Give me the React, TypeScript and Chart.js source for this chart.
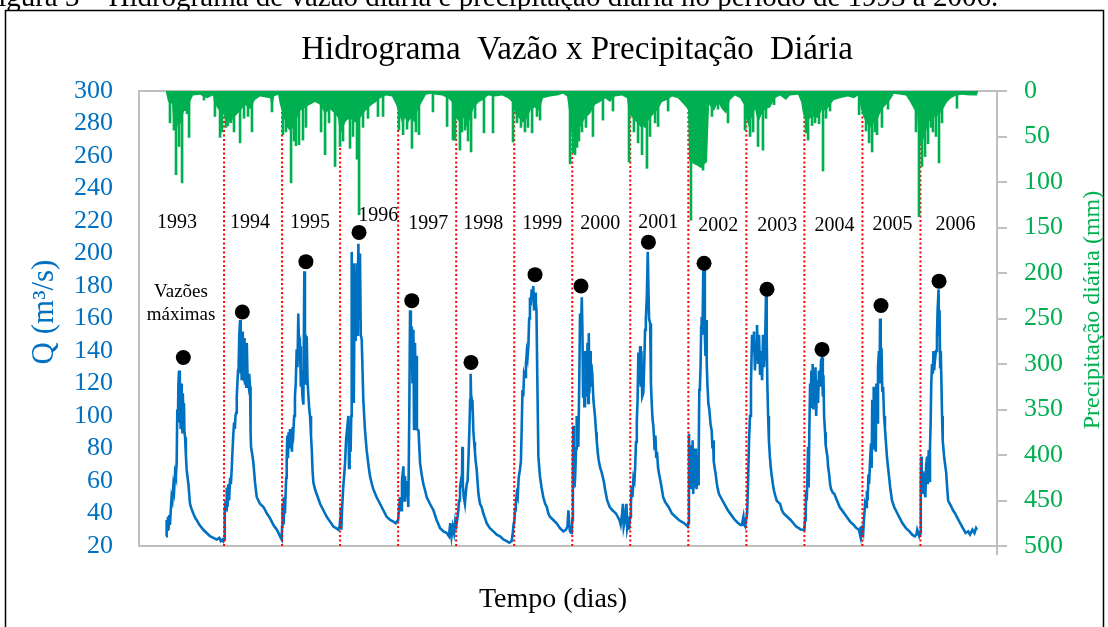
import { useEffect, useRef } from "react";
import { Chart, registerables } from "chart.js";

Chart.register(...registerables);

type Pt = [number, number];

// ---------- DATA ----------
const YEARS = [1993, 1994, 1995, 1996, 1997, 1998, 1999, 2000, 2001, 2002, 2003, 2004, 2005, 2006];
const START_DAY = 170; // axis day of the first record
const YEAR_LEN = 365.25;

// daily discharge, [day of year, Q m3/s]
const Q_1993: Pt[] = [[0,26],[4,36],[8,30],[12,38],[16,30],[20,39],[25,33],[30,42],[35,50],[40,48],[46,57],[51,54],[57,65],[62,63],[67,71],[71,104],[75,96],[78,120],[82,128],[86,100],[88,124],[92,92],[95,120],[99,110],[103,90],[106,114],[109,96],[113,108],[116,90],[120,87],[125,76],[130,67],[136,62],[141,58],[146,52],[151,46],[160,43],[172,40],[185,37],[193,36],[210,33],[235,30],[256,28],[277,26],[298,25],[319,24],[335,25],[345,23],[355,24],[361,23]];
const Q_1994: Pt[] = [[0,24],[3,44],[6,40],[10,48],[14,42],[17,56],[22,44],[27,58],[32,48],[38,62],[43,58],[48,67],[53,78],[58,88],[63,96],[68,92],[72,100],[76,102],[80,112],[84,120],[88,128],[92,132],[96,150],[101,159],[105,126],[108,150],[111,122],[114,152],[118,124],[122,145],[126,122],[129,148],[132,120],[136,140],[140,118],[143,145],[148,124],[153,120],[158,126],[164,118],[167,90],[170,81],[178,76],[185,71],[195,59],[206,50],[226,46],[248,44],[270,40],[290,37],[310,33],[332,30],[348,27],[357,25],[363,24]];
const Q_1995: Pt[] = [[0,32],[3,46],[6,34],[9,50],[12,36],[15,48],[18,40],[22,52],[26,62],[29,73],[33,88],[37,74],[41,90],[45,80],[50,92],[54,84],[58,88],[62,78],[66,93],[71,90],[76,100],[81,112],[86,120],[92,141],[97,130],[102,163],[107,140],[113,143],[118,118],[123,128],[128,112],[134,107],[140,189],[144,130],[148,150],[151,120],[155,149],[160,122],[166,112],[171,104],[176,100],[182,88],[187,79],[192,66],[197,59],[210,54],[225,50],[239,46],[260,42],[281,38],[302,35],[323,32],[340,31],[354,30],[362,32]];
const Q_1996: Pt[] = [[0,36],[4,44],[8,30],[12,42],[20,57],[26,64],[31,71],[38,86],[44,92],[52,100],[56,68],[60,95],[66,78],[70,100],[73,201],[78,118],[83,194],[86,108],[90,160],[94,147],[98,172],[104,194],[108,150],[112,184],[115,206],[120,160],[125,200],[130,150],[136,147],[146,110],[156,92],[167,79],[178,70],[188,63],[200,58],[209,55],[230,50],[251,46],[272,42],[293,38],[315,36],[335,35],[350,34],[364,36]];
const Q_1997: Pt[] = [[0,36],[6,44],[12,50],[18,42],[24,60],[33,69],[38,48],[43,63],[48,50],[54,60],[60,52],[64,44],[70,100],[75,165],[80,148],[86,155],[90,120],[96,153],[100,92],[106,145],[110,118],[114,137],[118,92],[128,91],[138,71],[148,64],[159,58],[170,54],[180,50],[200,46],[222,42],[242,36],[264,31],[285,29],[306,28],[320,26],[328,34],[336,26],[344,32],[352,28],[358,34],[364,30]];
const Q_1998: Pt[] = [[0,32],[6,36],[13,41],[18,48],[24,56],[30,60],[36,58],[39,81],[42,57],[48,50],[55,46],[60,52],[66,58],[72,60],[78,76],[83,91],[88,110],[91,126],[94,112],[97,104],[102,110],[108,91],[113,84],[118,78],[123,72],[129,67],[140,52],[150,46],[160,44],[171,40],[182,37],[192,34],[212,31],[234,29],[255,27],[276,26],[297,24],[318,23],[335,22],[349,23],[356,28],[362,34]];
const Q_1999: Pt[] = [[0,34],[5,42],[10,46],[16,52],[22,50],[28,62],[36,67],[42,72],[47,92],[52,116],[57,112],[62,126],[68,124],[74,132],[79,139],[84,136],[89,143],[94,160],[99,173],[104,168],[110,178],[115,172],[120,180],[125,165],[131,176],[136,170],[140,165],[145,126],[152,75],[162,63],[172,56],[183,50],[195,46],[205,44],[215,40],[225,38],[246,36],[267,34],[288,31],[309,29],[325,30],[335,32],[341,42],[346,33],[351,29],[358,28],[363,30]];
const Q_2000: Pt[] = [[0,36],[4,70],[7,94],[10,60],[14,56],[18,62],[24,80],[28,100],[32,86],[38,81],[44,120],[49,163],[55,150],[60,173],[64,153],[68,112],[72,135],[76,106],[80,140],[84,112],[88,138],[92,118],[96,145],[100,108],[104,151],[108,114],[112,140],[116,118],[120,132],[126,126],[133,110],[143,100],[150,90],[154,85],[160,78],[166,73],[176,68],[186,65],[198,60],[208,54],[220,48],[236,44],[253,42],[264,41],[275,40],[286,38],[297,36],[305,33],[312,38],[319,46],[324,32],[332,36],[341,46],[346,31],[352,34],[357,30],[362,36]];
const Q_2001: Pt[] = [[0,38],[4,46],[9,57],[14,50],[20,62],[26,60],[30,67],[36,84],[41,97],[46,110],[51,139],[56,120],[62,143],[66,118],[70,140],[75,112],[82,114],[88,132],[93,153],[98,160],[104,173],[110,201],[114,180],[118,160],[125,157],[130,120],[135,108],[140,98],[145,94],[150,86],[153,79],[158,88],[163,75],[168,78],[175,68],[182,64],[190,60],[197,56],[207,50],[220,47],[241,44],[262,40],[284,38],[306,36],[322,35],[339,34],[352,33],[361,32]];
const Q_2002: Pt[] = [[0,34],[4,89],[8,60],[11,82],[15,55],[19,78],[23,62],[27,85],[31,52],[36,72],[40,56],[44,80],[48,70],[52,55],[56,76],[61,58],[65,72],[69,116],[73,118],[77,130],[81,155],[84,161],[89,150],[94,188],[101,195],[104,150],[108,137],[112,159],[116,132],[120,120],[126,108],[132,104],[140,95],[147,91],[152,80],[156,85],[160,72],[166,68],[171,65],[180,58],[186,55],[193,52],[204,50],[215,48],[232,45],[249,42],[271,39],[293,36],[315,34],[328,33],[337,33],[343,36],[347,38],[352,33],[358,32],[364,36]];
const Q_2003: Pt[] = [[0,36],[5,40],[11,60],[17,85],[23,100],[29,120],[36,150],[42,140],[48,152],[54,128],[61,145],[67,156],[74,132],[80,150],[86,126],[92,140],[99,122],[105,150],[111,130],[118,145],[124,176],[128,150],[132,120],[137,100],[142,85],[148,75],[154,68],[160,63],[167,58],[174,54],[182,51],[191,48],[200,47],[212,46],[224,42],[235,40],[257,38],[279,36],[296,34],[313,32],[330,31],[345,30],[358,30]];
const Q_2004: Pt[] = [[0,30],[4,36],[8,38],[11,54],[15,48],[19,62],[23,81],[27,56],[31,90],[36,120],[40,105],[44,128],[48,110],[52,132],[56,104],[61,126],[65,112],[70,130],[74,100],[80,122],[86,108],[92,128],[99,118],[105,134],[111,136],[116,112],[120,125],[124,100],[130,90],[134,82],[140,78],[145,75],[150,68],[155,65],[162,58],[168,55],[178,53],[189,52],[205,48],[222,44],[244,41],[266,38],[288,35],[310,33],[327,31],[343,30],[350,27],[355,32],[359,27],[364,30]];
const Q_2005: Pt[] = [[0,30],[5,28],[11,38],[17,46],[23,44],[28,54],[33,48],[38,64],[42,58],[48,72],[54,83],[58,68],[62,110],[67,80],[71,118],[75,90],[79,104],[84,78],[88,120],[92,96],[98,130],[104,140],[108,120],[111,160],[115,132],[120,142],[125,115],[130,118],[136,100],[142,92],[147,85],[155,74],[165,65],[175,56],[186,48],[200,44],[220,40],[236,37],[252,34],[274,31],[296,29],[313,27],[330,26],[340,27],[345,30],[352,28],[358,26]];
const Q_2006: Pt[] = [[0,28],[2,58],[4,75],[8,58],[12,66],[16,52],[20,65],[25,54],[31,50],[36,70],[42,75],[46,58],[52,79],[56,60],[60,80],[64,95],[68,120],[73,132],[78,126],[82,140],[86,128],[92,135],[98,140],[104,150],[108,165],[114,178],[117,150],[120,165],[124,130],[128,140],[132,120],[136,100],[140,85],[150,74],[162,65],[168,56],[174,48],[190,45],[205,42],[218,40],[234,37],[250,34],[267,31],[284,28],[300,29],[312,27],[327,30],[340,28],[350,31],[356,30]];

const FLOW_YEARS: Pt[][] = [Q_1993, Q_1994, Q_1995, Q_1996, Q_1997, Q_1998, Q_1999, Q_2000, Q_2001, Q_2002, Q_2003, Q_2004, Q_2005, Q_2006];

// annual maximum markers (day of year, Q)
const PEAK_DAY = [109, 115, 150, 119, 86, 93, 131, 55, 114, 99, 130, 111, 117, 117];
const PEAK_Q = [136, 164, 195, 213, 171, 133, 187, 180, 207, 194, 178, 141, 168, 183];

// daily precipitation (axis day, mm): dense background and individual storms
const RAIN_BASE: Pt[] = [[170,2],[183,12],[208,14],[214,30],[227,30],[245,40],[264,35],[283,22],[308,22],[321,12],[340,5],[384,4],[428,8],[466,5],[472,12],[497,20],[522,22],
[541,30],[573,35],[604,28],[636,22],[667,15],[699,20],[730,10],[762,6],[825,8],[837,20],[850,6],[875,4],
[887,15],[913,30],[932,40],[957,45],[982,35],[1013,22],[1045,18],[1076,15],[1108,12],[1139,15],[1171,25],[1202,20],[1234,25],[1253,30],
[1265,50],[1284,40],[1303,33],[1328,30],[1360,35],[1391,30],[1410,25],[1435,20],[1466,15],[1492,12],[1517,8],[1555,5],[1592,6],[1618,15],
[1636,25],[1655,35],[1674,30],[1693,35],[1712,30],[1737,35],[1756,20],[1781,12],[1806,4],[1844,3],[1869,4],[1907,5],[1945,8],[1970,12],
[1995,30],[2020,35],[2039,28],[2064,40],[2083,30],[2108,18],[2140,12],[2165,10],[2197,5],[2241,6],[2285,5],[2322,8],[2348,12],
[2367,25],[2392,30],[2417,35],[2442,30],[2467,20],[2492,18],[2518,22],[2543,8],[2587,6],[2631,5],[2669,3],[2694,6],[2713,30],
[2725,50],[2744,45],[2776,40],[2807,30],[2839,25],[2870,15],[2902,12],[2933,8],[2964,12],[2996,6],[3040,5],[3071,8],
[3084,25],[3109,30],[3134,35],[3160,40],[3185,38],[3216,30],[3241,25],[3267,20],[3292,12],[3323,10],[3355,6],[3392,8],[3430,15],[3455,20],
[3462,76],[3487,80],[3512,82],[3537,85],[3562,80],[3575,78],[3588,15],[3619,22],[3644,12],[3669,20],[3695,25],[3720,10],[3751,5],[3783,8],[3808,15],
[3820,30],[3839,40],[3858,28],[3877,20],[3896,35],[3921,25],[3940,20],[3972,18],[4003,8],[4034,5],[4072,10],[4097,5],[4148,4],[4167,12],
[4179,25],[4198,35],[4223,30],[4248,28],[4274,30],[4299,20],[4324,22],[4349,15],[4374,10],[4412,8],[4462,6],[4500,8],[4525,5],
[4551,25],[4576,35],[4601,40],[4626,35],[4651,30],[4676,20],[4702,15],[4727,10],[4752,3],[4790,4],[4827,5],[4853,12],[4878,20],[4897,25],
[4909,60],[4928,55],[4947,50],[4966,35],[4991,30],[5016,28],[5041,25],[5060,20],[5086,12],[5111,8],[5142,5],[5180,4],[5230,5],[5274,5],[5281,0]];

const RAIN_STORMS: Pt[] = [[195,35],[220,43],[233,92],[252,61],[271,101],[302,25],[315,51],[409,10],[478,28],[510,51],[522,45],
[548,40],[560,38],[579,35],[598,45],[636,57],[661,30],[686,28],[711,45],[837,23],
[906,48],[925,45],[957,101],[976,55],[988,60],[1007,59],[1032,54],[1051,40],[1146,45],[1171,70],[1196,35],[1234,83],
[1265,61],[1284,55],[1328,63],[1347,50],[1372,75],[1385,136],[1410,40],[1441,30],[1504,28],[1536,28],
[1636,43],[1662,48],[1687,42],[1718,63],[1743,45],[1762,48],[1850,23],[1939,39],[1976,54],[1989,54],
[2020,65],[2033,45],[2052,43],[2071,55],[2090,67],[2115,30],[2171,46],[2228,46],[2354,56],
[2379,35],[2404,40],[2429,45],[2448,40],[2474,46],[2505,28],[2524,32],[2713,80],
[2732,68],[2744,70],[2757,62],[2769,55],[2788,45],[2813,40],[2857,50],[2920,32],[2983,22],[3084,78],
[3115,45],[3141,57],[3166,70],[3185,40],[3197,85],[3216,50],[3248,35],[3267,39],[3330,22],
[3474,142],[3550,87],[3606,28],[3644,20],[3707,35],
[3814,43],[3846,50],[3865,45],[3896,61],[3927,65],[3946,30],[3997,15],
[4198,46],[4211,54],[4236,38],[4255,35],[4280,36],[4305,88],[4324,30],[4349,22],[4532,26],
[4576,44],[4595,57],[4614,67],[4632,45],[4645,48],[4676,40],[4714,20],[4890,45],
[4909,138],[4928,83],[4947,72],[4966,58],[4985,40],[4997,45],[5016,50],[5035,79],[5054,35],[5148,19]];

const X_MIN = 0;
const X_MAX = 5400;
const X_STEP = 1000;
const Q_MIN = 20;
const Q_MAX = 300;
const Q_STEP = 20;
const P_MIN = 0;
const P_MAX = 500;
const P_STEP = 50;

const TITLE = "Hidrograma  Vazão x Precipitação  Diária";
const CAPTION = "Figura 3 – Hidrograma de vazão diária e precipitação diária no período de 1993 a 2006.";
const X_TITLE = "Tempo (dias)";
const Q_TITLE = "Q (m³/s)";
const P_TITLE = "Precipitação diária (mm)";
const NOTE = ["Vazões", "máximas"];

// ---------- LAYOUT / STYLE ----------
const W = 1108;
const H = 627;
const FONT = "'Liberation Serif', 'Times New Roman', serif";
const BLUE = "#0070C0";
const GREEN = "#00B050";
const AXIS_GREY = "#BFBFBF";
// label nudges (px) for the year names
const LABEL_DX = [-18, -3, -1, 9, 1, -2, -1, -1, -1, 1, 2, 1, 1, 6];
const LABEL_Y = [223, 223, 223, 216, 224, 224, 224, 224, 223, 226, 226, 226, 225, 225];

const yearStart = (k: number) => START_DAY + YEAR_LEN * k;

export default function App() {
  const ref = useRef<HTMLCanvasElement | null>(null);

  useEffect(() => {
    const canvas = ref.current;
    if (!canvas) return;

    const flow = FLOW_YEARS.flatMap((arr, k) => arr.map(([d, q]) => ({ x: yearStart(k) + d, y: q })));
    const peaks = PEAK_DAY.map((d, k) => ({ x: yearStart(k) + d, y: PEAK_Q[k] }));
    const bounds: { x: number; y: number | null }[] = [];
    for (let k = 1; k < YEARS.length; k++) {
      const x = yearStart(k);
      bounds.push({ x, y: Q_MIN }, { x, y: Q_MAX }, { x, y: null });
    }

    const decor = {
      id: "decor",
      beforeDraw(chart: any) {
        const { ctx } = chart;
        ctx.save();
        ctx.fillStyle = "#fff";
        ctx.fillRect(0, 0, W, H);
        ctx.fillStyle = "#000";
        ctx.font = `29px ${FONT}`;
        ctx.textAlign = "left";
        ctx.textBaseline = "alphabetic";
        ctx.fillText(CAPTION, -18, 6);
        ctx.fillStyle = "#fff";
        ctx.fillRect(0, 10, W, 2);
        ctx.strokeStyle = "#000";
        ctx.lineWidth = 1.5;
        ctx.strokeRect(5.5, 10.5, 1098, 640);
        ctx.restore();
      },
      beforeDatasetsDraw(chart: any) {
        const { ctx, chartArea: a } = chart;
        ctx.save();
        ctx.strokeStyle = AXIS_GREY;
        ctx.lineWidth = 2;
        ctx.strokeRect(a.left, a.top, a.right - a.left, a.bottom - a.top);
        ctx.restore();
      },
      afterDraw(chart: any) {
        const { ctx } = chart;
        const xs = chart.scales.x;
        const ys = chart.scales.y;
        ctx.save();
        ctx.fillStyle = "#000";
        ctx.textAlign = "center";
        ctx.textBaseline = "middle";
        ctx.font = `20px ${FONT}`;
        YEARS.forEach((yr, k) => {
          const px = xs.getPixelForValue(yearStart(k) + YEAR_LEN / 2) + LABEL_DX[k];
          ctx.fillText(String(yr), px, LABEL_Y[k]);
        });
        ctx.font = `19px ${FONT}`;
        const nx = xs.getPixelForValue(yearStart(0)) + 15;
        ctx.fillText(NOTE[0], nx, ys.getPixelForValue(176));
        ctx.fillText(NOTE[1], nx, ys.getPixelForValue(162));

        ctx.font = `33px ${FONT}`;
        ctx.fillText(TITLE, 577, 50);

        ctx.font = `28px ${FONT}`;
        ctx.fillText(X_TITLE, 553, 600);

        ctx.save();
        ctx.translate(45, 312);
        ctx.rotate(-Math.PI / 2);
        ctx.fillStyle = BLUE;
        ctx.font = `31px ${FONT}`;
        ctx.fillText(Q_TITLE, 0, 0);
        ctx.restore();

        ctx.save();
        ctx.translate(1093, 310);
        ctx.rotate(-Math.PI / 2);
        ctx.fillStyle = GREEN;
        ctx.font = `24px ${FONT}`;
        ctx.fillText(P_TITLE, 0, 0);
        ctx.restore();
        ctx.restore();
      },
    };

    const chart = new Chart(canvas, {
      type: "line",
      data: {
        datasets: [
          {
            type: "bar",
            label: "storms",
            data: RAIN_STORMS.map(([x, y]) => ({ x, y })),
            yAxisID: "y2",
            backgroundColor: GREEN,
            barThickness: 2,
            order: 0,
          } as any,
          {
            label: "rain",
            data: RAIN_BASE.map(([x, y]) => ({ x, y })),
            yAxisID: "y2",
            borderWidth: 0,
            pointRadius: 0,
            backgroundColor: GREEN,
            fill: "origin",
            order: 1,
          },
          {
            label: "Vazões máximas",
            data: peaks,
            yAxisID: "y",
            showLine: false,
            pointRadius: 7.5,
            pointBackgroundColor: "#000",
            pointBorderWidth: 0,
            order: 2,
          },
          {
            label: "anos",
            data: bounds as any,
            yAxisID: "y",
            borderColor: "#FF0000",
            borderWidth: 2,
            borderDash: [2, 2.5],
            pointRadius: 0,
            spanGaps: false,
            order: 3,
          },
          {
            label: "Q",
            data: flow,
            yAxisID: "y",
            borderColor: BLUE,
            borderWidth: 2.6,
            pointRadius: 0,
            tension: 0,
            order: 4,
          },
        ],
      },
      options: {
        responsive: false,
        animation: false,
        devicePixelRatio: 1,
        layout: { padding: { top: 91, left: 0, right: 0, bottom: 0 } },
        plugins: {
          legend: { display: false },
          tooltip: { enabled: false },
          title: { display: false },
        },
        scales: {
          x: {
            type: "linear",
            min: X_MIN,
            max: X_MAX,
            offset: false,
            ticks: { display: false, stepSize: X_STEP },
            afterBuildTicks: (s: any) => {
              s.ticks = s.ticks.filter((t: any) => t.value % X_STEP === 0);
            },
            grid: { drawOnChartArea: false, color: AXIS_GREY, lineWidth: 2, tickLength: 9 },
            border: { display: false },
            afterFit: (s: any) => {
              s.height = H - 546;
            },
          },
          y: {
            position: "left",
            min: Q_MIN,
            max: Q_MAX,
            ticks: { stepSize: Q_STEP, autoSkip: false, color: BLUE, font: { family: FONT, size: 26 }, padding: 26 },
            grid: { display: false, drawTicks: false },
            border: { display: false },
            afterFit: (s: any) => {
              s.width = 139;
            },
          },
          y2: {
            position: "right",
            reverse: true,
            min: P_MIN,
            max: P_MAX,
            ticks: { stepSize: P_STEP, autoSkip: false, color: GREEN, font: { family: FONT, size: 26 }, padding: 17 },
            grid: { drawOnChartArea: false, color: AXIS_GREY, lineWidth: 2, tickLength: 10 },
            border: { display: false },
            afterFit: (s: any) => {
              s.width = W - 997;
            },
          },
        },
      },
      plugins: [decor],
    });

    return () => chart.destroy();
  }, []);

  return (
    <div style={{ position: "fixed", left: 0, top: 0, width: W, height: H, background: "#fff" }}>
      <canvas ref={ref} width={W} height={H} style={{ width: W, height: H, display: "block" }} />
    </div>
  );
}
